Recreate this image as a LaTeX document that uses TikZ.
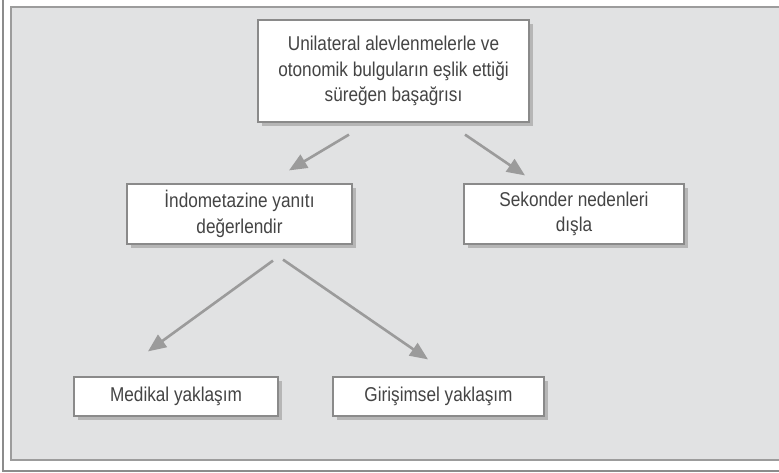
\documentclass[tikz,border=0pt]{standalone}
\usepackage{fontspec}
\setmainfont{Liberation Sans}[FakeStretch=0.86]
\usetikzlibrary{arrows.meta,shadows}
\definecolor{panelfill}{HTML}{E1E2E3}
\definecolor{panelline}{HTML}{9C9C9C}
\definecolor{frameline}{HTML}{8C8C8C}
\definecolor{boxline}{HTML}{8A8A8A}
\definecolor{boxshadow}{HTML}{B6B6B6}
\definecolor{arrowgray}{HTML}{9B9B9B}
\definecolor{textgray}{HTML}{444444}
\tikzset{
  flowbox/.style={draw=boxline, line width=1.2pt, fill=white, align=center,
    inner sep=0pt, text=textgray,
    font=\fontsize{20}{25.5}\selectfont,
    drop shadow={shadow xshift=4pt, shadow yshift=-4pt, fill=boxshadow, opacity=1}},
  flowarrow/.style={draw=arrowgray, line width=2.6pt,
    -{Triangle[length=18pt,width=15pt]}}
}
\begin{document}
\begin{tikzpicture}[x=1pt,y=-1pt]
  \useasboundingbox (0,0) rectangle (779,472);
  % outer frame and shaded panel
  \draw[frameline, line width=1.5pt] (3,0) -- (3,471) -- (781,471);
  \draw[panelline, fill=panelfill, line width=1.6pt] (781,7) -- (11,7) -- (11,460) -- (781,460);

  % boxes
  \node[flowbox, minimum width=271pt, minimum height=102pt] (top) at (393.5,71)
    {Unilateral alevlenmelerle ve\\otonomik bulguların eşlik ettiği\\süreğen başağrısı};
  \node[flowbox, minimum width=225pt, minimum height=60pt] (ind) at (239.5,214)
    {İndometazine yanıtı\\değerlendir};
  \node[flowbox, minimum width=220pt, minimum height=60pt] (sek) at (574,214)
    {Sekonder nedenleri\\dışla};
  \node[flowbox, minimum width=204pt, minimum height=39pt] (med) at (176,396.5)
    {Medikal yaklaşım};
  \node[flowbox, minimum width=211pt, minimum height=39pt] (gir) at (438.5,396.5)
    {Girişimsel yaklaşım};

  % connectors
  \draw[flowarrow] ([xshift=-44.5pt,yshift=-12pt]top.south) -- ([xshift=49.5pt,yshift=13pt]ind.north);
  \draw[flowarrow] ([xshift=71.5pt,yshift=-12pt]top.south) -- ([xshift=-49pt,yshift=8pt]sek.north);
  \draw[flowarrow] ([xshift=33.5pt,yshift=-16pt]ind.south) -- ([xshift=-28pt,yshift=25pt]med.north);
  \draw[flowarrow] ([xshift=43.5pt,yshift=-15pt]ind.south) -- ([xshift=-10.5pt,yshift=17pt]gir.north);
\end{tikzpicture}
\end{document}
